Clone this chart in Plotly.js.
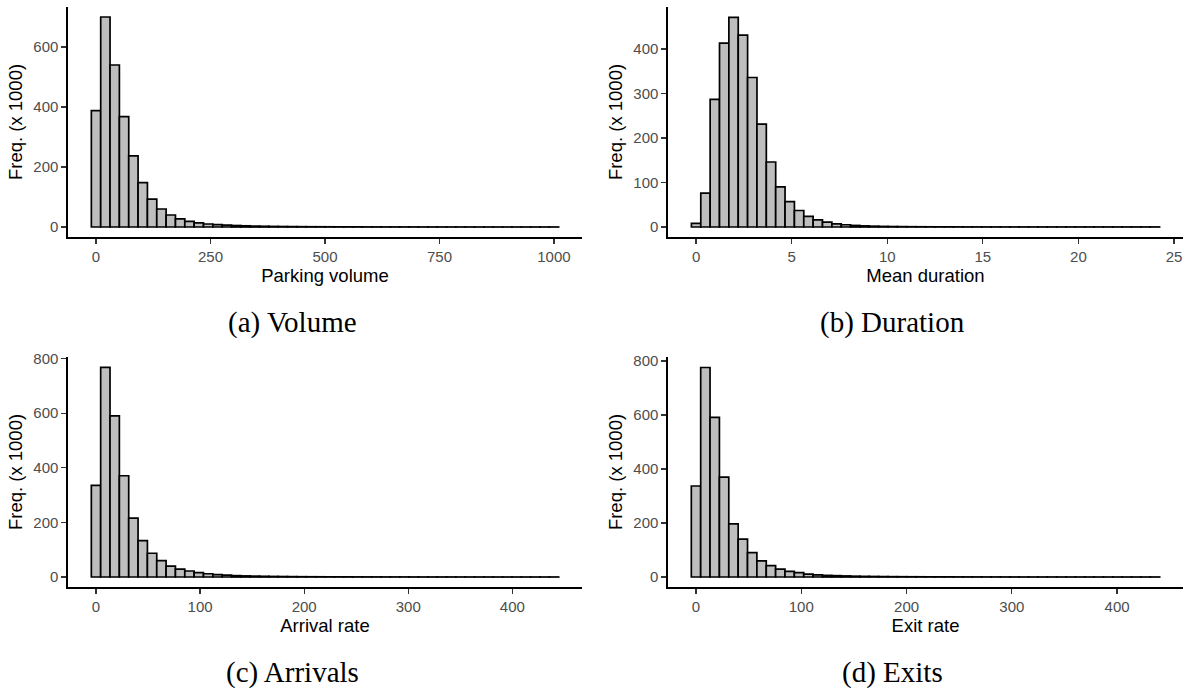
<!DOCTYPE html>
<html>
<head>
<meta charset="utf-8">
<script src="https://cdn.plot.ly/plotly-3.0.1.min.js"></script>
<style>html,body{margin:0;padding:0;background:#fff;}#chart{width:1192px;height:693px;}</style>
</head>
<body>
<div id="chart"></div>
<script>
// Frequencies (x 1000) per histogram bin, 50 bins each
const volumeCounts = [388, 700, 540, 368, 237, 148, 93, 60, 40, 27, 19, 14, 10, 8, 6, 5, 4, 3, 2.5, 2,
  1.6, 1.3, 1.1, 0.9, 0.8, 0.7, 0.6, 0.5, 0.45, 0.4, 0.35, 0.3, 0.3, 0.25, 0.25, 0.2, 0.2, 0.2, 0.15, 0.15,
  0.15, 0.1, 0.1, 0.1, 0.1, 0.1, 0.1, 0.1, 0.1, 0.1];
const durationCounts = [8, 76, 287, 413, 471, 431, 336, 231, 146, 90, 57, 37, 24, 16, 11, 7, 5, 3.5, 2.5, 1.8,
  1.3, 1, 0.8, 0.6, 0.5, 0.4, 0.35, 0.3, 0.25, 0.2, 0.2, 0.15, 0.15, 0.1, 0.1, 0.1, 0.1, 0.1, 0.1, 0.1,
  0.1, 0.1, 0.1, 0.1, 0.1, 0.1, 0.1, 0.1, 0.1, 0.1];
const arrivalCounts = [336, 768, 590, 371, 216, 133, 87, 60, 40, 29, 22, 16, 12, 9, 7, 5, 4, 3.2, 2.6, 2.1,
  1.7, 1.4, 1.1, 0.9, 0.8, 0.7, 0.6, 0.5, 0.45, 0.4, 0.35, 0.3, 0.3, 0.25, 0.25, 0.2, 0.2, 0.2, 0.2, 0.15,
  0.15, 0.15, 0.15, 0.1, 0.1, 0.1, 0.1, 0.1, 0.1, 0.1];
const exitCounts = [337, 776, 591, 370, 197, 140, 90, 60, 42, 29, 21, 16, 11, 8, 6, 5, 4, 3, 2.4, 2,
  1.6, 1.3, 1.1, 0.9, 0.8, 0.7, 0.6, 0.5, 0.45, 0.4, 0.35, 0.3, 0.3, 0.25, 0.25, 0.2, 0.2, 0.2, 0.2, 0.15,
  0.15, 0.15, 0.15, 0.1, 0.1, 0.1, 0.1, 0.1, 0.1, 0.1];

// Bin layout: first bin centre and bin width per variable
const volumeBins = {start: 0, width: 1000 / 49};
const durationBins = {start: 0, width: 24 / 49};
const arrivalBins = {start: 0, width: 440 / 49};
const exitBins = {start: 0, width: 436 / 49};

const xTitles = ["Parking volume", "Mean duration", "Arrival rate", "Exit rate"];
const captions = ["(a) Volume", "(b) Duration", "(c) Arrivals", "(d) Exits"];
const yTitle = "Freq. (x 1000)";

const xTicks = [[0, 250, 500, 750, 1000], [0, 5, 10, 15, 20, 25], [0, 100, 200, 300, 400], [0, 100, 200, 300, 400]];
const yTicks = [[0, 200, 400, 600], [0, 100, 200, 300, 400], [0, 200, 400, 600, 800], [0, 200, 400, 600, 800]];

const W = 1192, H = 693;
const panels = [
  {counts: volumeCounts, bins: volumeBins, xr: [-61.2, 1061.2], yr: [-33.3, 733.3], px: [68, 582], py: [7, 237]},
  {counts: durationCounts, bins: durationBins, xr: [-1.47, 25.47], yr: [-22.5, 494.4], px: [668, 1183], py: [7, 237]},
  {counts: arrivalCounts, bins: arrivalBins, xr: [-26.9, 466.9], yr: [-36.6, 805.9], px: [68, 582], py: [357, 587]},
  {counts: exitCounts, bins: exitBins, xr: [-26.6, 462.6], yr: [-37, 814.8], px: [668, 1183], py: [357, 587]}
];

const traces = [];
const layout = {
  width: W, height: H, margin: {l: 0, r: 0, t: 0, b: 0},
  paper_bgcolor: "#ffffff", plot_bgcolor: "#ffffff",
  showlegend: false, bargap: 0,
  font: {family: "Liberation Sans, Arial, sans-serif", color: "#000"},
  annotations: []
};
const capCentres = [292, 892, 292, 892];
const capBase = [334, 334, 684, 684];

panels.forEach((p, i) => {
  const n = i === 0 ? "" : String(i + 1);
  traces.push({
    type: "bar", x0: p.bins.start, dx: p.bins.width, y: p.counts,
    width: p.bins.width,
    xaxis: "x" + n, yaxis: "y" + n,
    marker: {color: "#bebebe", line: {color: "#000", width: 1.7}},
    hoverinfo: "x+y"
  });
  const common = {
    showgrid: false, zeroline: false, showline: true, linecolor: "#000", linewidth: 1.6,
    ticks: "outside", ticklen: 5, tickwidth: 1.2, tickcolor: "#333",
    tickfont: {size: 15, color: "#4d4d4d", family: "Liberation Sans, Arial, sans-serif"},
    fixedrange: true
  };
  layout["xaxis" + n] = Object.assign({}, common, {
    domain: [p.px[0] / W, p.px[1] / W], range: p.xr, anchor: "y" + n,
    tickmode: "array", tickvals: xTicks[i], ticktext: xTicks[i].map(String),
    title: {text: xTitles[i], font: {size: 18.5, color: "#000"}, standoff: 2}
  });
  layout["yaxis" + n] = Object.assign({}, common, {
    domain: [1 - p.py[1] / H, 1 - p.py[0] / H], range: p.yr, anchor: "x" + n,
    tickmode: "array", tickvals: yTicks[i], ticktext: yTicks[i].map(String),
    title: {text: yTitle, font: {size: 18.5, color: "#000"}, standoff: 6}
  });
  layout.annotations.push({
    text: captions[i], xref: "paper", yref: "paper",
    x: capCentres[i] / W, y: 1 - (capBase[i] + 7) / H, xanchor: "center", yanchor: "bottom",
    showarrow: false, font: {family: "Liberation Serif, Times New Roman, serif", size: 29, color: "#000"}
  });
});

Plotly.newPlot("chart", traces, layout, {staticPlot: true, displayModeBar: false});
</script>
</body>
</html>
